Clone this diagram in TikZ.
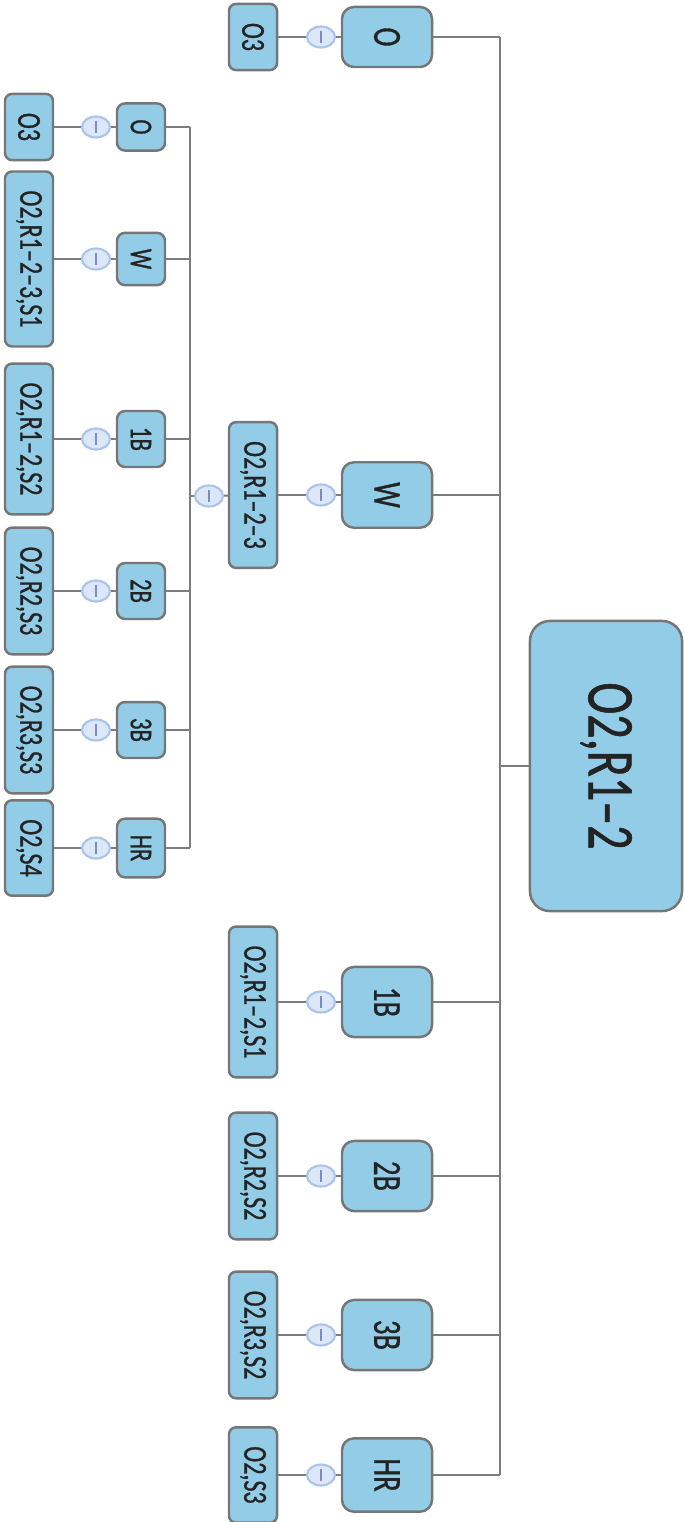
\documentclass[tikz,border=0pt]{standalone}
\usepackage{fontspec}
\setmainfont{Carlito}[FakeStretch=0.72, FakeBold=0.8]
\usetikzlibrary{shapes.geometric}

\definecolor{boxblue}{RGB}{146,204,230}
\definecolor{edgegray}{RGB}{118,118,118}
\definecolor{inkgray}{RGB}{35,35,35}
\definecolor{linkgray}{RGB}{125,125,125}
\definecolor{knobfill}{RGB}{220,232,248}
\definecolor{knobedge}{RGB}{170,195,235}
\definecolor{knobtick}{RGB}{120,140,205}

\begin{document}
\begin{tikzpicture}[x=0.01cm, y=-0.01cm,
  box/.style={rotate=-90, draw=edgegray, line width=0.7pt, fill=boxblue, text=inkgray, inner ysep=0pt},
  rootbox/.style={box, rounded corners=0.2cm, minimum width=2.9cm, minimum height=1.52cm, font=\fontsize{19}{20}\selectfont},
  topbox/.style={box, rounded corners=0.12cm, inner xsep=0.2cm, minimum width=0.6cm, minimum height=0.9cm, font=\fontsize{11.3}{12}\selectfont},
  subbox/.style={box, rounded corners=0.08cm, inner xsep=0.16cm, minimum width=0.43cm, minimum height=0.48cm, font=\fontsize{9}{10}\selectfont},
  leaf/.style={box, rounded corners=0.07cm, inner xsep=0.19cm, minimum width=0.6cm, minimum height=0.48cm, font=\fontsize{9.5}{10}\selectfont},
  knob/.style={ellipse, draw=knobedge, fill=knobfill, line width=0.6pt, minimum width=0.28cm, minimum height=0.21cm, inner sep=0pt,
    path picture={\draw[knobtick, line width=0.35pt] (path picture bounding box.center) ++(0pt,1.8pt) -- ++(0pt,-3.6pt);}},
  link/.style={draw=linkgray, line width=0.55pt}]
  \useasboundingbox (0,0) rectangle (684,1522);

  % trunk lines
  \coordinate (trA) at (500,0);
  \coordinate (trB) at (190,0);

  % root
  \node[rootbox] (root) at (606,766) {O2,R1--2};

  % first level
  \foreach \k/\lab/\y/\sub in {o/O/37/O3, w/W/495/{O2,R1--2--3}, 1b/1B/1002/{O2,R1--2,S1},
      2b/2B/1176/{O2,R2,S2}, 3b/3B/1335/{O2,R3,S2}, hr/HR/1475/{O2,S3}}{
    \node[topbox] (t-\k) at (387,\y) {\lab};
    \node[knob] (kt-\k) at (321,\y) {};
    \node[leaf] (s-\k) at (253,\y) {\sub};
    \draw[link] (s-\k) -- (kt-\k) -- (t-\k);
    \draw[link] (t-\k) -- (t-\k -| trA);
  }
  \draw[link] (t-o -| trA) -- (t-hr -| trA);
  \draw[link] (root) -- (root -| trA);

  % second level under O2,R1-2-3
  \foreach \k/\lab/\y/\sub in {o/O/127/O3, w/W/259/{O2,R1--2--3,S1}, 1b/1B/439/{O2,R1--2,S2},
      2b/2B/591/{O2,R2,S3}, 3b/3B/730/{O2,R3,S3}, hr/HR/848/{O2,S4}}{
    \node[subbox] (u-\k) at (141,\y) {\lab};
    \node[knob] (ku-\k) at (96,\y) {};
    \node[leaf] (v-\k) at (29,\y) {\sub};
    \draw[link] (v-\k) -- (ku-\k) -- (u-\k);
    \draw[link] (u-\k) -- (u-\k -| trB);
  }
  \draw[link] (u-o -| trB) -- (u-hr -| trB);
  \node[knob] (kmid) at (209,496) {};
  \draw[link] (s-w) -- (kmid) -- (kmid -| trB);
\end{tikzpicture}
\end{document}
